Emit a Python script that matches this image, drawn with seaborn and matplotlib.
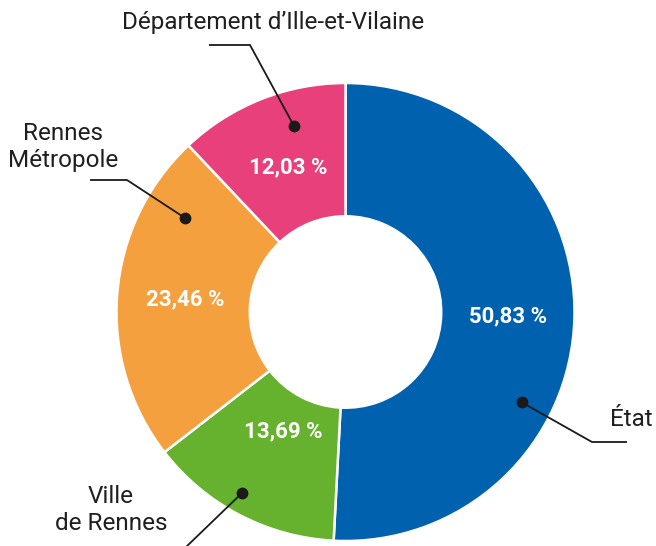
import matplotlib
matplotlib.use("Agg")
import numpy as np
import matplotlib.pyplot as plt
import seaborn as sns

# data
labels = ["État", "Ville\nde Rennes", "Rennes\nMétropole", "Département d’Ille-et-Vilaine"]
shares = [50.83, 13.69, 23.46, 12.03]
share_labels = ["50,83 %", "13,69 %", "23,46 %", "12,03 %"]
colors = ["#0061ae", "#66b22e", "#f4a03f", "#e8407a"]

# layout (pixels, image coords with y going down)
W, H = 656, 546
cx, cy, R = 345.5, 312, 229
hole = 0.418
pct_r = [0.71, 0.59, 0.70, 0.68]
callouts = [
    # dot, line path, text pos
    ((521.7, 402.3), [(592, 442), (627, 442)], (631, 419)),
    ((242, 493), [(185, 548)], (111, 510)),
    ((185, 218), [(127, 180), (90, 180)], (63, 147)),
    ((294, 126), [(250, 45), (209, 45)], (273, 22)),
]

sns.set_theme(style="white")
plt.rcParams["font.family"] = ["Roboto", "DejaVu Sans"]

fig = plt.figure(figsize=(W / 100, H / 100), dpi=100)
ax = fig.add_axes([0, 0, 1, 1])

def fy(y):
    return H - y

wedges, _ = ax.pie(
    shares,
    colors=colors,
    startangle=90,
    counterclock=False,
    center=(cx, fy(cy)),
    radius=R,
    wedgeprops=dict(width=R * (1 - hole), edgecolor="white", linewidth=1.8),
    frame=True,
)
ax.set_xlim(0, W)
ax.set_ylim(0, H)
ax.set_aspect("equal")
ax.axis("off")

for w, txt, r in zip(wedges, share_labels, pct_r):
    mid = np.deg2rad((w.theta1 + w.theta2) / 2)
    ax.text(cx + R * r * np.cos(mid), fy(cy) + R * r * np.sin(mid), txt,
            color="white", fontsize=16, fontweight="bold",
            ha="center", va="center")

for (dot, path, tpos), lab in zip(callouts, labels):
    xs = [dot[0]] + [p[0] for p in path]
    ys = [fy(dot[1])] + [fy(p[1]) for p in path]
    ax.plot(xs, ys, color="#1a1a1a", lw=1.3, solid_capstyle="butt", clip_on=False)
    ax.plot(dot[0], fy(dot[1]), "o", color="#1a1a1a", ms=7.5)
    ax.text(tpos[0], fy(tpos[1]), lab, color="#1f1f1f", fontsize=17.5,
            ha="center", va="center", linespacing=1.2)

plt.savefig("out.png", dpi=100)
plt.close("all")
